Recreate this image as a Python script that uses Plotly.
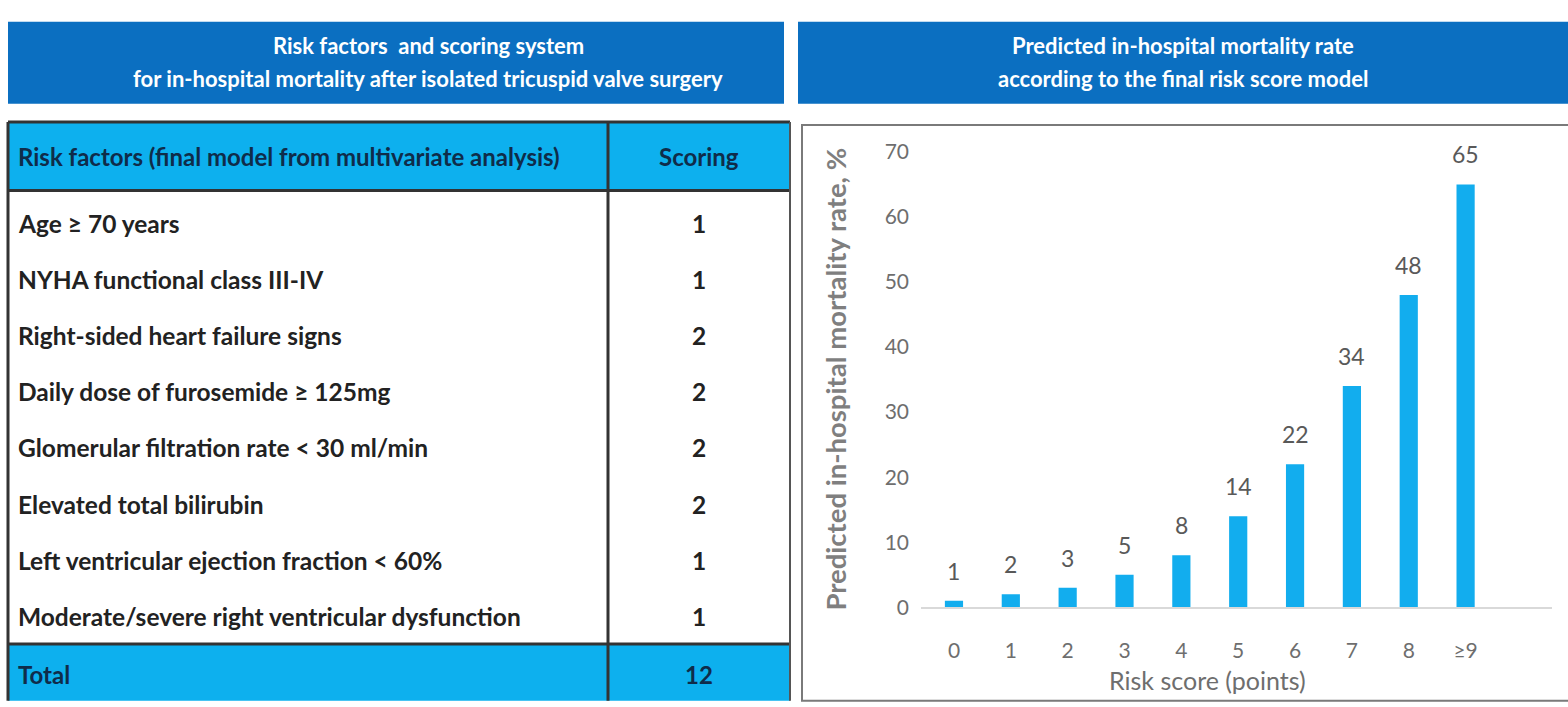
import plotly.graph_objects as go

# ---- data ----
risk_factors = [
    "Age ≥ 70 years",
    "NYHA functional class III-IV",
    "Right-sided heart failure signs",
    "Daily dose of furosemide ≥ 125mg",
    "Glomerular filtration rate < 30 ml/min",
    "Elevated total bilirubin",
    "Left ventricular ejection fraction < 60%",
    "Moderate/severe right ventricular dysfunction",
]
scores = [1, 1, 2, 2, 2, 2, 1, 1]
total_score = 12

risk_score_labels = ["0", "1", "2", "3", "4", "5", "6", "7", "8", "≥9"]
mortality_pct = [1, 2, 3, 5, 8, 14, 22, 34, 48, 65]
y_ticks = [0, 10, 20, 30, 40, 50, 60, 70]

left_title = ["Risk factors  and scoring system",
              "for in-hospital mortality after isolated tricuspid valve surgery"]
right_title = ["Predicted in-hospital mortality rate",
               "according to the final risk score model"]
table_head = ["Risk factors (final model from multivariate analysis)", "Scoring"]
x_title = "Risk score (points)"
y_title = "Predicted in-hospital mortality rate, %"

# ---- styling ----
W, H = 1568, 707
FONT = "Lato"
DARK_BLUE = "#0B6FC1"
LIGHT_BLUE = "#0DB0EE"
BAR_BLUE = "#12ADEE"
BORDER = "#333333"
TEXT = "#222222"
HEAD_TEXT = "#0F2C4A"
AXIS_TEXT = "#6E6E6E"


def px(x):
    return x / W


def py(y):
    return 1 - y / H


shapes = []
annotations = []


def rect(x0, y0, x1, y1, fill=None, line=None, width=0):
    shapes.append(dict(
        type="rect", xref="paper", yref="paper",
        x0=px(x0), x1=px(x1), y0=py(y1), y1=py(y0),
        fillcolor=fill if fill else "rgba(0,0,0,0)",
        line=dict(color=line if line else "rgba(0,0,0,0)", width=width),
        layer="below",
    ))


def hline(x0, x1, y, color, width):
    shapes.append(dict(type="line", xref="paper", yref="paper",
                       x0=px(x0), x1=px(x1), y0=py(y), y1=py(y),
                       line=dict(color=color, width=width)))


def vline(x, y0, y1, color, width):
    shapes.append(dict(type="line", xref="paper", yref="paper",
                       x0=px(x), x1=px(x), y0=py(y0), y1=py(y1),
                       line=dict(color=color, width=width)))


def text(x, y, s, size, color, xanchor="left", bold=False, angle=0):
    annotations.append(dict(
        xref="paper", yref="paper", x=px(x), y=py(y),
        text=f"<b>{s}</b>" if bold else s,
        showarrow=False, xanchor=xanchor, yanchor="middle",
        textangle=angle,
        font=dict(family=FONT, size=size, color=color),
    ))


# title bands
rect(8, 8, 784, 93, fill=DARK_BLUE)
rect(798, 8, 1568, 93, fill=DARK_BLUE)
for i, line in enumerate(left_title):
    text(428, 33 + i * 34, line, 22, "white", xanchor="center", bold=True)
for i, line in enumerate(right_title):
    text(1183, 33 + i * 34, line, 22, "white", xanchor="center", bold=True)

# table
TX0, TX1, TDIV = 8, 790, 608
HEAD_Y0, HEAD_Y1 = 112, 183
ROW0_Y, ROW_STEP = 217, 58.2
TOTAL_Y0 = 653
TSIZE = 24.5
rect(TX0, HEAD_Y0, TX1, HEAD_Y1, fill=LIGHT_BLUE)
rect(TX0, TOTAL_Y0, TX1, 712, fill=LIGHT_BLUE)
hline(TX0, TX1, HEAD_Y0, BORDER, 3)
hline(TX0, TX1, HEAD_Y1, BORDER, 3)
hline(TX0, TX1, TOTAL_Y0, BORDER, 3)
vline(TX0, HEAD_Y0, 712, BORDER, 3)
vline(TX1, HEAD_Y0, 712, "#555555", 2)
vline(TDIV, HEAD_Y0, 712, BORDER, 3)

score_x = (TDIV + TX1) / 2
text(16, (HEAD_Y0 + HEAD_Y1) / 2, table_head[0], 24, HEAD_TEXT, bold=True)
text(score_x, (HEAD_Y0 + HEAD_Y1) / 2, table_head[1], 24, HEAD_TEXT,
     xanchor="center", bold=True)
for i, (name, sc) in enumerate(zip(risk_factors, scores)):
    yy = ROW0_Y + i * ROW_STEP
    text(16, yy, name, TSIZE, TEXT, bold=True)
    text(score_x, yy, str(sc), TSIZE, TEXT, xanchor="center", bold=True)
text(16, 685, "Total", 24, HEAD_TEXT, bold=True)
text(score_x, 685, str(total_score), 24, HEAD_TEXT, xanchor="center", bold=True)

# chart panel frame
rect(802, 115, 1575, 712, line="#7A7A7A", width=2)

# axis titles
text(836, 379, y_title, 27.5, "#7F7F7F", xanchor="center", bold=True, angle=-90)
text(1207, 690, x_title, 25, AXIS_TEXT, xanchor="center")

# bar value labels
for lab, v in zip(risk_score_labels, mortality_pct):
    annotations.append(dict(
        xref="x", yref="y", x=lab, y=v, text=str(v), showarrow=False,
        xanchor="center", yanchor="bottom", yshift=14,
        font=dict(family=FONT, size=23, color="#595959"),
    ))

fig = go.Figure(go.Bar(
    x=risk_score_labels, y=mortality_pct, width=0.32,
    marker=dict(color=BAR_BLUE, line=dict(width=0)),
    hoverinfo="x+y",
))

fig.update_layout(
    width=W, height=H,
    margin=dict(l=0, r=0, t=0, b=0),
    paper_bgcolor="white", plot_bgcolor="white",
    showlegend=False,
    shapes=shapes, annotations=annotations,
    font=dict(family=FONT),
    xaxis=dict(
        domain=[px(921), px(1552)],
        type="category",
        range=[-0.58, 10.52],
        showgrid=False, zeroline=False,
        showline=True, linecolor="#D9D9D9", linewidth=2,
        ticks="", ticklabelstandoff=24,
        tickfont=dict(family=FONT, size=21, color=AXIS_TEXT),
    ),
    yaxis=dict(
        domain=[py(615), py(143)],
        range=[0, 70],
        tickvals=y_ticks,
        showgrid=False, zeroline=False, showline=False,
        ticks="", ticklabelstandoff=11,
        tickfont=dict(family=FONT, size=21, color=AXIS_TEXT),
    ),
)

fig.write_html("out.html")
